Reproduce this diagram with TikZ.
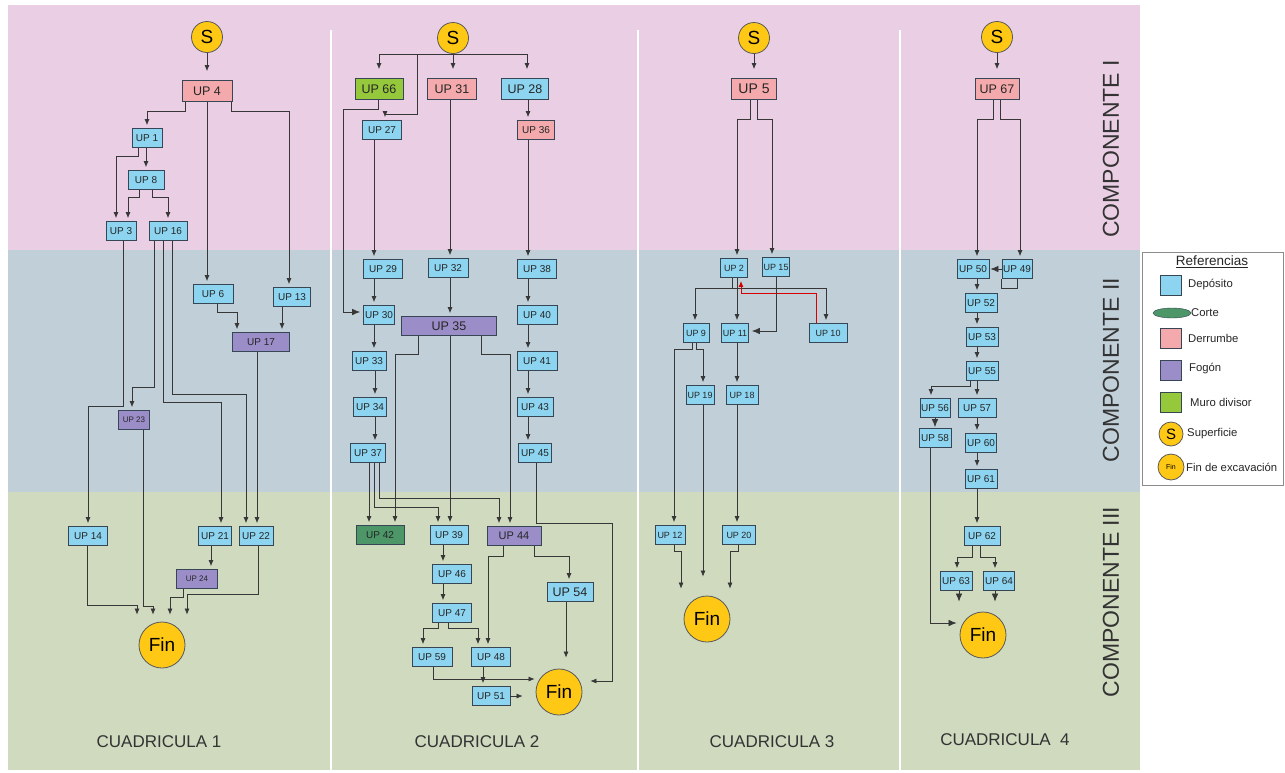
\documentclass[tikz,border=0pt]{standalone}
\usepackage{fontspec}
\setmainfont{Liberation Sans}
\usepackage{xcolor}
\usepackage{tikz}
\usetikzlibrary{arrows.meta,positioning,shapes.geometric}

\definecolor{bandaI}{RGB}{234,206,228}
\definecolor{bandaII}{RGB}{193,207,217}
\definecolor{bandaIII}{RGB}{207,218,191}
\definecolor{azuldep}{RGB}{140,212,240}
\definecolor{rosader}{RGB}{244,170,172}
\definecolor{violfog}{RGB}{155,142,200}
\definecolor{verdemuro}{RGB}{150,200,60}
\definecolor{verdecorte}{RGB}{76,150,104}
\definecolor{amarillo}{RGB}{255,200,20}
\definecolor{borde}{RGB}{55,70,85}
\definecolor{linea}{RGB}{55,55,55}

\begin{document}
\begin{tikzpicture}[x=1pt, y=-1pt,
	up/.style={draw=borde, line width=0.8pt, minimum height=19pt, inner sep=1pt, text=black!85, font=\fontsize{10}{12}\selectfont},
	dep/.style={up, fill=azuldep},
	der/.style={up, fill=rosader},
	fog/.style={up, fill=violfog},
	muro/.style={up, fill=verdemuro},
	cortebox/.style={up, fill=verdecorte},
	grande/.style={font=\fontsize{12.5}{14}\selectfont, minimum height=21pt},
	chico/.style={font=\fontsize{8}{10}\selectfont},
	estrecho/.style={font=\fontsize{9}{11}\selectfont},
	sup/.style={circle, draw=black!65, line width=0.8pt, fill=amarillo, minimum size=31pt, inner sep=0pt, font=\fontsize{19}{21}\selectfont},
	fin/.style={circle, draw=black!65, line width=0.8pt, fill=amarillo, minimum size=46pt, inner sep=0pt, font=\fontsize{19}{21}\selectfont},
	conn/.style={draw=linea, line width=0.7pt, -{Latex[length=6pt,width=5pt]}, shorten >=3pt},
	gruesa/.style={conn, -{Latex[length=8pt,width=6.5pt]}},
	sconn/.style={conn, shorten >=9pt},
	retro/.style={conn, draw=red!85!black, line width=1pt},
	rotulo/.style={text=black!80, font=\fontsize{17}{19}\selectfont},
	comp/.style={rotate=90, text=black!80, font=\fontsize{23}{25}\selectfont},
	leyenda/.style={anchor=west, inner sep=1pt, text=black!85, font=\fontsize{11.3}{13}\selectfont}]
	%\draw[help lines] (0,0) grid (1285,772);
	\fill[white] (0,0) rectangle (1285,772);
	\useasboundingbox (0,0) rectangle (1285,772);
	\fill[bandaI] (8,5) rectangle (1140,250);
	\fill[bandaII] (8,250) rectangle (1140,492);
	\fill[bandaIII] (8,492) rectangle (1140,770);
	\foreach \xs in {331,638,900}
		\draw[white, line width=2.5pt] (\xs,30) -- (\xs,770);

	% cuadricula 1
	\node[sup] (s1) at (207,37) {S};
	\node[der, grande, minimum width=50pt] (up4) at (207,91) {UP 4};
	\node[dep, minimum width=30pt] (up1) at (147,138) {UP 1};
	\node[dep, minimum width=36pt] (up8) at (146,180) {UP 8};
	\node[dep, minimum width=30pt] (up3) at (121,231) {UP 3};
	\node[dep, minimum width=38pt] (up16) at (168,231) {UP 16};
	\node[dep, minimum width=40pt] (up6) at (213,294) {UP 6};
	\node[dep, minimum width=37pt] (up13) at (292,297) {UP 13};
	\node[fog, minimum width=57pt] (up17) at (261,342) {UP 17};
	\node[fog, chico, minimum width=31pt] (up23) at (134,420) {UP 23};
	\node[dep, minimum width=39pt] (up14) at (88,536) {UP 14};
	\node[dep, minimum width=33pt] (up21) at (215,536) {UP 21};
	\node[dep, minimum width=34pt] (up22) at (256,536) {UP 22};
	\node[fog, chico, minimum width=41pt] (up24) at (197,579) {UP 24};
	\node[fin] (fin1) at (162,645) {Fin};

	\draw[sconn] (s1) -- (up4);
	\draw[conn] ([xshift=-22pt]up4.south) -- ++(0,9) -| (up1);
	\draw[conn] (up4.south) -- ([xshift=-6pt]up6.north);
	\draw[conn] ([xshift=24pt]up4.south) -- ++(0,9) -| ([xshift=-3pt]up13.north);
	\draw[conn] ([xshift=-9pt]up1.south) -- ++(0,8) -| ([xshift=-5pt]up3.north);
	\draw[conn] ([xshift=-1pt]up1.south) -- (up8);
	\draw[conn] ([xshift=-7pt]up8.south) -- ++(0,7) -| ([xshift=7pt]up3.north);
	\draw[conn] ([xshift=6pt]up8.south) -- ++(0,7) -| (up16);
	\draw[conn] ([xshift=2pt]up3.south) -- ++(0,165) -| (up14);
	\draw[conn] ([xshift=-14pt]up16.south) -- ++(0,146) -| ([xshift=-2pt]up23.north);
	\draw[conn] ([xshift=-5pt]up16.south) -- ++(0,161) -| ([xshift=6pt]up21.north);
	\draw[conn] ([xshift=4pt]up16.south) -- ++(0,153) -| ([xshift=-10pt]up22.north);
	\draw[conn] ([xshift=4pt]up6.south) -- ++(0,8) -| ([xshift=-24pt]up17.north);
	\draw[conn] ([xshift=-10pt]up13.south) -- ([xshift=21pt]up17.north);
	\draw[conn] ([xshift=-4pt]up17.south) -- ([xshift=1pt]up22.north);
	\draw[conn] ([xshift=-4pt]up21.south) -- ([xshift=14pt]up24.north);
	\draw[conn] ([xshift=-1pt]up14.south) -- ++(0,59) -| ([xshift=-25pt,yshift=4pt]fin1.north);
	\draw[conn] ([xshift=9pt]up23.south) -- ++(0,176) -| ([xshift=-9pt,yshift=4pt]fin1.north);
	\draw[conn] ([xshift=-14pt]up24.south) -- ++(0,8) -| ([xshift=8pt,yshift=4pt]fin1.north);
	\draw[conn] ([xshift=2pt]up22.south) -- ++(0,48) -| ([xshift=25pt,yshift=4pt]fin1.north);

	% cuadricula 2
	\node[sup] (s2) at (453,38) {S};
	\node[muro, grande, minimum width=48pt] (up66) at (379,89) {UP 66};
	\node[der, grande, minimum width=49pt] (up31) at (452,89) {UP 31};
	\node[dep, grande, minimum width=47pt] (up28) at (525,89) {UP 28};
	\node[dep, minimum width=39pt] (up27) at (382,130) {UP 27};
	\node[der, minimum width=37pt] (up36) at (536,130) {UP 36};
	\node[dep, minimum width=39pt] (up29) at (383,269) {UP 29};
	\node[dep, minimum width=40pt] (up32) at (448,268) {UP 32};
	\node[dep, minimum width=39pt] (up38) at (537,269) {UP 38};
	\node[dep, minimum width=31pt] (up30) at (379,315) {UP 30};
	\node[fog, grande, minimum width=95pt, minimum height=19pt] (up35) at (449,326) {UP 35};
	\node[dep, minimum width=40pt] (up40) at (537,315) {UP 40};
	\node[dep, minimum width=34pt] (up33) at (369,361) {UP 33};
	\node[dep, minimum width=40pt] (up41) at (537,361) {UP 41};
	\node[dep, minimum width=33pt] (up34) at (370,407) {UP 34};
	\node[dep, minimum width=36pt] (up43) at (535,407) {UP 43};
	\node[dep, minimum width=35pt] (up37) at (368,453) {UP 37};
	\node[dep, minimum width=33pt] (up45) at (535,453) {UP 45};
	\node[cortebox, minimum width=48pt] (up42) at (380,535) {UP 42};
	\node[dep, minimum width=38pt] (up39) at (449,535) {UP 39};
	\node[fog, font=\fontsize{11}{13}\selectfont, minimum width=54pt] (up44) at (514,536) {UP 44};
	\node[dep, grande, minimum width=46pt, minimum height=19pt] (up54) at (570,592) {UP 54};
	\node[dep, minimum width=39pt] (up46) at (452,574) {UP 46};
	\node[dep, minimum width=39pt] (up47) at (452,613) {UP 47};
	\node[dep, minimum width=40pt] (up59) at (432,657) {UP 59};
	\node[dep, minimum width=39pt] (up48) at (491,657) {UP 48};
	\node[dep, minimum width=38pt] (up51) at (491,696) {UP 51};
	\node[fin] (fin2) at (559,692) {Fin};

	\draw[sconn] (s2.south) -| (up66);
	\draw[sconn] (s2.south) -| ([xshift=2pt]up28.north);
	\draw[sconn] (s2.south) -- (s2.south |- up31.north);
	\draw[conn] ([xshift=-36pt]s2.south) -- ++(0,60) -| ([xshift=3pt]up27.north);
	\draw[conn] ([xshift=3pt]up28.south) -- ([xshift=-8pt]up36.north);
	\draw[gruesa] ([xshift=-1pt]up66.south) -- ++(0,9) -- ++(-35,0) |- ([yshift=3pt]up30.west);
	\draw[conn] ([xshift=-8pt]up27.south) -- ([xshift=-9pt]up29.north);
	\draw[conn] ([xshift=-9pt]up29.south) -- ([xshift=-5pt]up30.north);
	\draw[conn] ([xshift=-5pt]up30.south) -- ([xshift=5pt]up33.north);
	\draw[conn] ([xshift=6pt]up33.south) -- ([xshift=5pt]up34.north);
	\draw[conn] ([xshift=5pt]up34.south) -- ([xshift=7pt]up37.north);
	\draw[conn] ([xshift=-2pt]up31.south) -- ([xshift=2pt]up32.north);
	\draw[conn] ([xshift=2pt]up32.south) -- ([xshift=1pt]up35.north);
	\draw[conn] ([xshift=-8pt]up36.south) -- ([xshift=-9pt]up38.north);
	\draw[conn] ([xshift=-9pt]up38.south) -- ([xshift=-9pt]up40.north);
	\draw[conn] ([xshift=-9pt]up40.south) -- ([xshift=-9pt]up41.north);
	\draw[conn] ([xshift=-9pt]up41.south) -- ([xshift=-7pt]up43.north);
	\draw[conn] ([xshift=-7pt]up43.south) -- ([xshift=-7pt]up45.north);
	\draw[conn] ([xshift=-31pt]up35.south) -- ++(0,18) -| ([xshift=15pt]up42.north);
	\draw[conn] ([xshift=1pt]up35.south) -- ([xshift=1pt]up39.north);
	\draw[conn] ([xshift=32pt]up35.south) -- ++(0,18) -| ([xshift=-4pt]up44.north);
	\draw[conn] ([xshift=1pt]up37.south) -- ([xshift=-11pt]up42.north);
	\draw[conn] ([xshift=6pt]up37.south) -- ++(0,44) -| ([xshift=-11pt]up39.north);
	\draw[conn] ([xshift=11pt]up37.south) -- ++(0,35) -| ([xshift=-15pt]up44.north);
	\draw[conn] ([xshift=1pt]up45.south) -- ++(0,60) -- ++(76,0) |- ([xshift=5pt,yshift=11pt]fin2.east);
	\draw[conn] ([xshift=-6pt]up39.south) -- ([xshift=-9pt]up46.north);
	\draw[conn] ([xshift=-9pt]up46.south) -- ([xshift=-9pt]up47.north);
	\draw[conn] ([xshift=-11pt]up44.south) -- ++(0,10) -| ([xshift=-3pt]up48.north);
	\draw[conn] ([xshift=20pt]up44.south) -- ++(0,10) -| ([xshift=-1pt]up54.north);
	\draw[conn] ([xshift=-14pt]up47.south) -- ++(0,5) -| ([xshift=-9pt]up59.north);
	\draw[conn] ([xshift=-4pt]up47.south) -- ++(0,5) -| ([xshift=-13pt]up48.north);
	\draw[conn] ([xshift=-4pt]up54.south) -- ([xshift=7pt,yshift=8pt]fin2.north);
	\draw[conn] ([xshift=1pt]up59.south) |- ([xshift=2pt,yshift=13pt]fin2.west);
	\draw[conn] ([xshift=-8pt]up48.south) -- ([xshift=-8pt]up51.north);
	\draw[conn] (up51.east) -- ([xshift=-10pt,yshift=-4pt]fin2.west);

	% cuadricula 3
	\node[sup] (s3) at (754,38) {S};
	\node[der, font=\fontsize{14}{16}\selectfont, minimum width=45pt, minimum height=21pt] (up5) at (754,89) {UP 5};
	\node[dep, estrecho, minimum width=27pt] (up2) at (734,268) {UP 2};
	\node[dep, estrecho, minimum width=27pt] (up15) at (776,267) {UP 15};
	\node[dep, estrecho, minimum width=26pt] (up9) at (696,333) {UP 9};
	\node[dep, estrecho, minimum width=27pt] (up11) at (735,333) {UP 11};
	\node[dep, estrecho, minimum width=38pt] (up10) at (828,333) {UP 10};
	\node[dep, estrecho, minimum width=28pt] (up19) at (700,395) {UP 19};
	\node[dep, estrecho, minimum width=32pt] (up18) at (742,395) {UP 18};
	\node[dep, estrecho, minimum width=30pt] (up12) at (670,535) {UP 12};
	\node[dep, estrecho, minimum width=33pt] (up20) at (739,535) {UP 20};
	\node[fin] (fin3) at (707,619) {Fin};

	\draw[sconn] (s3) -- (up5);
	\draw[conn] ([xshift=-4pt]up5.south) -- ++(0,19) -| ([xshift=3pt]up2.north);
	\draw[conn] ([xshift=3pt]up5.south) -- ++(0,19) -| ([xshift=-4pt]up15.north);
	\draw[conn] ([xshift=-2pt]up2.south) -- ++(0,10) -| ([xshift=-1pt]up9.north);
	\draw[conn] ([xshift=3pt]up2.south) -- ([xshift=2pt]up11.north);
	\draw[conn] ([xshift=-2pt]up2.south) -- ++(0,10) -| ([xshift=-2pt]up10.north);
	\draw[retro] ([xshift=-12pt]up10.north) -- ++(0,-30) -| ([xshift=7pt]up2.south);
	\draw[gruesa] (up15.south) |- ([yshift=2pt]up11.east);
	\draw[conn] ([xshift=-4pt]up9.south) -- ++(0,6) -| ([xshift=4pt]up12.north);
	\draw[conn] (up9.south) -- ++(0,6) -| ([xshift=3pt]up19.north);
	\draw[conn] ([xshift=2pt]up11.south) -- ([xshift=-5pt]up18.north);
	\draw[conn] ([xshift=-5pt]up18.south) -- ([xshift=-2pt]up20.north);
	\draw[conn] ([xshift=3pt]up19.south) -- ([xshift=-4pt,yshift=16pt]fin3.north);
	\draw[conn] ([xshift=4pt]up12.south) -- ++(0,6) -| ([xshift=-26pt,yshift=4pt]fin3.north);
	\draw[conn] ([xshift=-1pt]up20.south) -- ++(0,6) -| ([xshift=23pt,yshift=4pt]fin3.north);

	% cuadricula 4
	\node[sup] (s4) at (997,37) {S};
	\node[der, grande, minimum width=44pt] (up67) at (997,89) {UP 67};
	\node[dep, minimum width=32pt] (up50) at (973,269) {UP 50};
	\node[dep, minimum width=28pt] (up49) at (1017,269) {UP 49};
	\node[dep, minimum width=32pt] (up52) at (981,303) {UP 52};
	\node[dep, minimum width=32pt] (up53) at (982,337) {UP 53};
	\node[dep, minimum width=32pt] (up55) at (982,371) {UP 55};
	\node[dep, minimum width=30pt] (up56) at (935,408) {UP 56};
	\node[dep, minimum width=38pt] (up57) at (977,408) {UP 57};
	\node[dep, minimum width=32pt] (up58) at (935,438) {UP 58};
	\node[dep, minimum width=31pt] (up60) at (981,443) {UP 60};
	\node[dep, minimum width=32pt] (up61) at (981,479) {UP 61};
	\node[dep, minimum width=36pt] (up62) at (982,536) {UP 62};
	\node[dep, minimum width=32pt] (up63) at (956,581) {UP 63};
	\node[dep, minimum width=31pt] (up64) at (999,581) {UP 64};
	\node[fin] (fin4) at (983,635) {Fin};

	\draw[sconn] (s4) -- (up67);
	\draw[conn] ([xshift=-4pt]up67.south) -- ++(0,19) -| ([xshift=4pt]up50.north);
	\draw[conn] ([xshift=3pt]up67.south) -- ++(0,19) -| ([xshift=3pt]up49.north);
	\draw[gruesa, shorten >=1pt] (up49.west) -- (up50.east);
	\draw[linea, line width=0.7pt] (up49.south) -- ++(0,9) -| (up49.south west);
	\draw[conn] ([xshift=4pt]up50.south) -- ([xshift=-4pt]up52.north);
	\draw[conn] ([xshift=-4pt]up52.south) -- ([xshift=-5pt]up53.north);
	\draw[conn] ([xshift=-5pt]up53.south) -- ([xshift=-5pt]up55.north);
	\draw[conn] ([xshift=-12pt]up55.south) -- ++(0,5) -| ([xshift=-4pt]up56.north);
	\draw[conn] ([xshift=-5pt]up55.south) -- (up57.north);
	\draw[gruesa, shorten >=1pt] (up56.south) -- (up58.north);
	\draw[conn] (up57.south) -- ([xshift=-4pt]up60.north);
	\draw[conn] ([xshift=-4pt]up60.south) -- ([xshift=-4pt]up61.north);
	\draw[conn] ([xshift=-4pt]up61.south) -- ([xshift=-5pt]up62.north);
	\draw[conn] ([xshift=-10pt]up62.south) -- ++(0,11) -| ([xshift=1pt]up63.north);
	\draw[conn] ([xshift=-2pt]up62.south) -- ++(0,11) -| ([xshift=-4pt]up64.north);
	\draw[gruesa] ([xshift=3pt]up63.south) -- ([xshift=-24pt,yshift=7pt]fin4.north);
	\draw[gruesa] ([xshift=-4pt]up64.south) -- ([xshift=12pt,yshift=7pt]fin4.north);
	\draw[gruesa] ([xshift=-5pt]up58.south) |- ([yshift=12pt]fin4.west);

	% rotulos
	\node[rotulo] (cuad1) at (159,742) {CUADRICULA 1};
	\node[rotulo] (cuad2) at (477,742) {CUADRICULA 2};
	\node[rotulo] (cuad3) at (772,742) {CUADRICULA 3};
	\node[rotulo] (cuad4) at (1005,740) {CUADRICULA\ \ 4};
	\node[comp] (compI) at (1111,149) {COMPONENTE I};
	\node[comp] (compII) at (1111,370) {COMPONENTE II};
	\node[comp] (compIII) at (1111,602) {COMPONENTE III};

	% referencias
	\draw[black!45, fill=white] (1142,252) rectangle (1283,485);
	\node[text=black!85, font=\fontsize{13.5}{15}\selectfont] (refs) at (1212,262) {\underline{Referencias}};
	\node[up, fill=azuldep, minimum width=21pt, minimum height=20pt] (ldep) at (1171,285) {};
	\node[leyenda] (tdep) at (1187,285) {Depósito};
	\node[ellipse, draw=borde, fill=verdecorte, minimum width=38pt, minimum height=10pt, inner sep=0pt] (lcorte) at (1172,313) {};
	\node[leyenda] (tcorte) at (1190,313) {Corte};
	\node[up, fill=rosader, minimum width=21pt, minimum height=20pt] (lder) at (1171,338) {};
	\node[leyenda] (tder) at (1187,338) {Derrumbe};
	\node[up, fill=violfog, minimum width=21pt, minimum height=20pt] (lfog) at (1171,370) {};
	\node[leyenda] (tfog) at (1188,369) {Fogón};
	\node[up, fill=verdemuro, minimum width=21pt, minimum height=20pt] (lmuro) at (1171,402) {};
	\node[leyenda] (tmuro) at (1189,402) {Muro divisor};
	\node[sup, minimum size=24pt, font=\fontsize{15}{17}\selectfont] (lsup) at (1171,434) {S};
	\node[leyenda] (tsup) at (1186,434) {Superficie};
	\node[fin, minimum size=26pt, font=\fontsize{7}{8}\selectfont] (lfin) at (1171,467) {Fin};
	\node[leyenda] (tfin) at (1185,467) {Fin de excavación};
\end{tikzpicture}
\end{document}
